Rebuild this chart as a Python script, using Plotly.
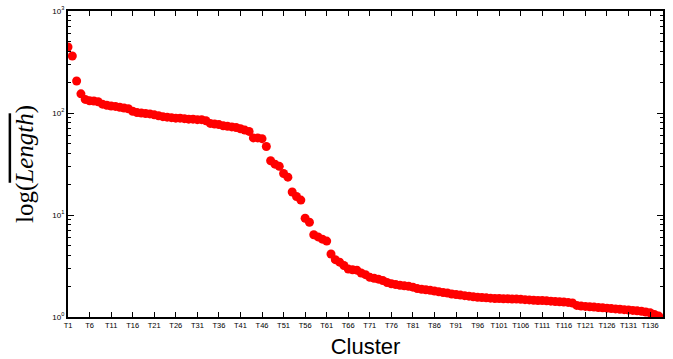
import plotly.graph_objects as go

values = [444, 362, 206, 154, 136, 132, 131, 129, 122, 119,
          117, 116, 114, 112, 110, 104, 101, 100, 99, 98,
          96, 94, 92, 91, 90, 89, 89, 88, 87, 87,
          86, 86, 84, 79, 78, 77, 75, 74, 73, 72,
          70, 68, 66, 57, 57, 56, 47, 34, 31.5, 30,
          25.5, 23.5, 16.8, 15.2, 14, 9.3, 8.5, 6.4, 6.1, 5.8,
          5.55, 4.15, 3.65, 3.45, 3.2, 2.95, 2.9, 2.88, 2.7, 2.6,
          2.45, 2.4, 2.35, 2.28, 2.18, 2.12, 2.08, 2.05, 2.02, 2.0,
          1.96, 1.9, 1.87, 1.85, 1.83, 1.8, 1.77, 1.74, 1.72, 1.68,
          1.66, 1.64, 1.62, 1.6, 1.58, 1.56, 1.55, 1.54, 1.53, 1.52,
          1.52, 1.51, 1.51, 1.5, 1.5, 1.49, 1.48, 1.47, 1.46, 1.45,
          1.45, 1.44, 1.43, 1.42, 1.41, 1.40, 1.39, 1.37, 1.30, 1.28,
          1.27, 1.26, 1.25, 1.24, 1.23, 1.22, 1.21, 1.20, 1.19, 1.18,
          1.17, 1.16, 1.15, 1.14, 1.12, 1.10, 1.06, 1.02]
positions = list(range(1, len(values) + 1))
tick_positions = list(range(1, 137, 5))
tick_labels = [f"T{p}" for p in tick_positions]
y_tickvals = [1, 10, 100, 1000]
y_ticktext = ["10<sup>0</sup>", "10<sup>1</sup>", "10<sup>2</sup>", "10<sup>3</sup>"]
y_minor = [m * 10 ** d for d in range(3) for m in range(2, 10)]

fig = go.Figure()
fig.add_trace(go.Scatter(
    x=positions, y=values, mode="markers",
    marker=dict(color="#ff0000", size=9, line=dict(width=0)),
    showlegend=False,
))

fig.update_layout(
    width=673, height=359,
    margin=dict(l=68, r=10, t=11, b=42),
    paper_bgcolor="white", plot_bgcolor="white",
    font=dict(family="Liberation Sans, Arial", color="black"),
)
fig.update_xaxes(
    range=[1, 139], tickvals=tick_positions, ticktext=tick_labels,
    ticks="inside", ticklen=5, tickwidth=1, tickcolor="black",
    showline=True, linecolor="black", linewidth=2, mirror="ticks",
    showgrid=False, zeroline=False, automargin=False,
    tickfont=dict(size=7.5, family="Liberation Sans, Arial"),
    title=dict(text="Cluster", font=dict(size=22, family="Liberation Sans, Arial"), standoff=12),
)
fig.update_yaxes(
    type="log", range=[0, 3], tickvals=y_tickvals, ticktext=y_ticktext,
    ticks="inside", ticklen=6, tickwidth=1, tickcolor="black",
    minor=dict(tickvals=y_minor, ticks="inside", ticklen=3, tickcolor="black", showgrid=False),
    showline=True, linecolor="black", linewidth=2, mirror="ticks",
    showgrid=False, zeroline=False, automargin=False,
    tickfont=dict(size=8, family="Liberation Sans, Arial"),
    title=dict(text="log(<span style='text-decoration:overline'><i>Length</i></span>)",
               font=dict(size=25, family="Liberation Serif, DejaVu Serif, serif"), standoff=12),
)

fig.write_html("out.html")
